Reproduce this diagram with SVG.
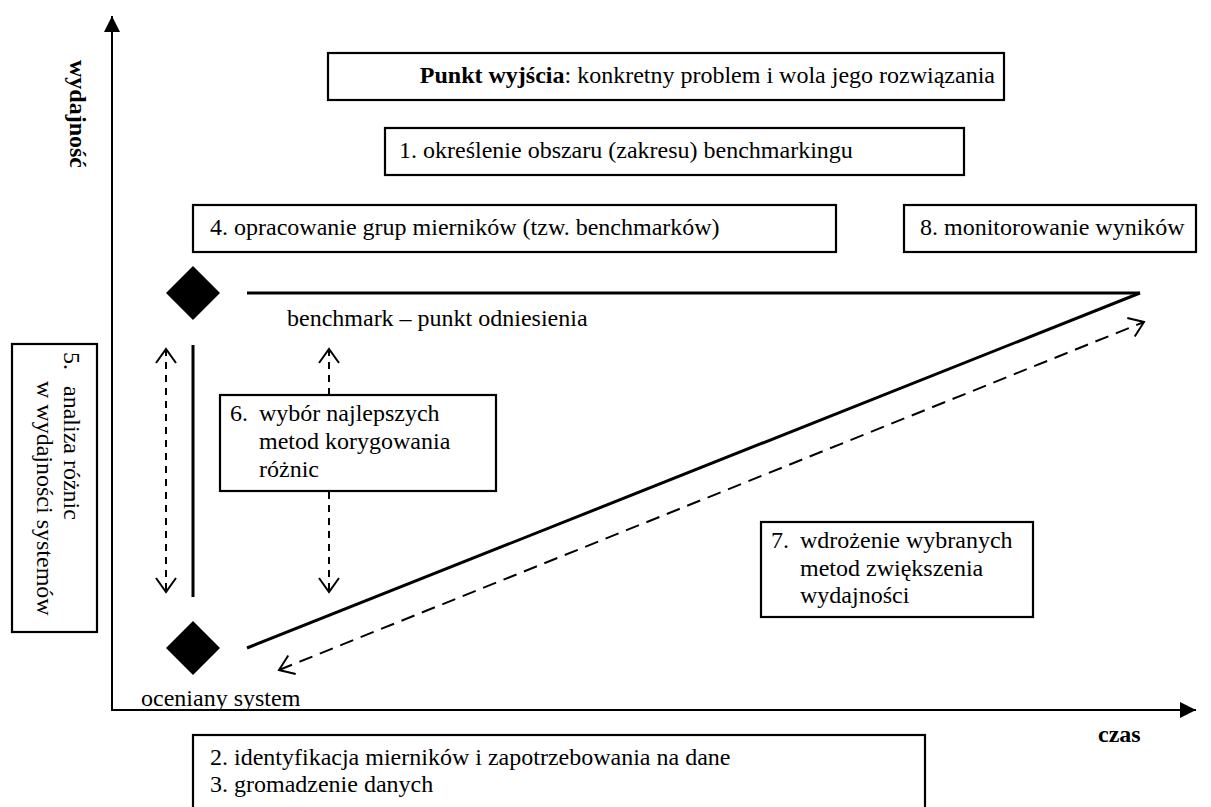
<svg xmlns="http://www.w3.org/2000/svg" width="1211" height="807" viewBox="0 0 1211 807" font-family="'Liberation Serif', 'Times New Roman', 'DejaVu Serif', serif">
<style>
text{font-family:"Liberation Serif","Times New Roman","DejaVu Serif",serif;font-size:24px;fill:#000}
.b{font-weight:bold}
.box{fill:#fff;stroke:#000;stroke-width:2.2}
.solid{stroke:#000;stroke-width:3;fill:none}
.axis{stroke:#000;stroke-width:2;fill:none}
.dash{stroke:#000;stroke-width:2;fill:none;stroke-dasharray:7 6}
.dashd{stroke:#000;stroke-width:2;fill:none;stroke-dasharray:14 8}
</style>
<defs>
<marker id="open" markerUnits="userSpaceOnUse" markerWidth="20" markerHeight="24" refX="15" refY="11" orient="auto-start-reverse" viewBox="0 0 20 24">
<path d="M1,1 L15,11 L1,21" fill="none" stroke="#000" stroke-width="2"/>
</marker>
<marker id="solidhead" markerUnits="userSpaceOnUse" markerWidth="18" markerHeight="18" refX="16" refY="8" orient="auto" viewBox="0 0 18 18">
<path d="M0,0 L16,8 L0,16 Z" fill="#000"/>
</marker>
</defs>
<rect width="1211" height="807" fill="#fff"/>
<g id="connectors">
<line class="axis" x1="112" y1="711" x2="112" y2="16" marker-end="url(#solidhead)"/>
<line class="axis" x1="111" y1="710" x2="1196" y2="710" marker-end="url(#solidhead)"/>
<line class="solid" x1="247" y1="293" x2="1140" y2="293"/>
<line class="solid" x1="247" y1="648" x2="1140" y2="293"/>
<line class="solid" x1="193" y1="345" x2="193" y2="597"/>
<line class="dash" x1="166" y1="349" x2="166" y2="592" marker-start="url(#open)" marker-end="url(#open)"/>
<line class="dash" x1="329" y1="349" x2="329" y2="592" marker-start="url(#open)" marker-end="url(#open)"/>
<line class="dashd" x1="279" y1="670" x2="1144" y2="322" marker-start="url(#open)" marker-end="url(#open)"/>
</g>
<g id="axis-labels">
<text class="b" transform="translate(70,60) rotate(90)">wydajność</text>
<text class="b" x="1098" y="742">czas</text>
</g>
<g id="diamond-benchmark">
<polygon points="193,266 220,293 193,320 166,293" fill="#000"/>
<text x="287" y="326">benchmark – punkt odniesienia</text>
</g>
<g id="diamond-system">
<polygon points="193,621 220,648 193,675 166,648" fill="#000"/>
<text x="141" y="706">oceniany system</text>
</g>
<g id="start">
<rect class="box" x="328" y="53" width="676" height="47"/>
<text x="995" y="83" text-anchor="end"><tspan class="b">Punkt wyjścia</tspan>: konkretny problem i wola jego rozwiązania</text>
</g>
<g id="step1">
<rect class="box" x="385" y="128" width="579" height="47"/>
<text x="399" y="158">1. określenie obszaru (zakresu) benchmarkingu</text>
</g>
<g id="step4">
<rect class="box" x="193" y="205" width="643" height="47"/>
<text x="210" y="235">4. opracowanie grup mierników (tzw. benchmarków)</text>
</g>
<g id="step8">
<rect class="box" x="904" y="205" width="292" height="47"/>
<text x="920" y="235">8. monitorowanie wyników</text>
</g>
<g id="step5">
<rect class="box" x="12" y="344" width="85" height="288"/>
<text transform="translate(64,352) rotate(90)">5.</text>
<text transform="translate(64,386) rotate(90)">analiza różnic</text>
<text transform="translate(37,381) rotate(90)">w wydajności systemów</text>
</g>
<g id="step6">
<rect class="box" x="220" y="395" width="276" height="96"/>
<text x="230" y="421">6.</text>
<text x="259" y="421">wybór najlepszych</text>
<text x="259" y="449">metod korygowania</text>
<text x="259" y="477">różnic</text>
</g>
<g id="step7">
<rect class="box" x="761" y="522" width="272" height="95"/>
<text x="771" y="548">7.</text>
<text x="800" y="548">wdrożenie wybranych</text>
<text x="800" y="576">metod zwiększenia</text>
<text x="800" y="603">wydajności</text>
</g>
<g id="step2-3">
<rect class="box" x="193" y="735" width="732" height="90"/>
<text x="210" y="765">2. identyfikacja mierników i zapotrzebowania na dane</text>
<text x="210" y="792">3. gromadzenie danych</text>
</g>
</svg>
